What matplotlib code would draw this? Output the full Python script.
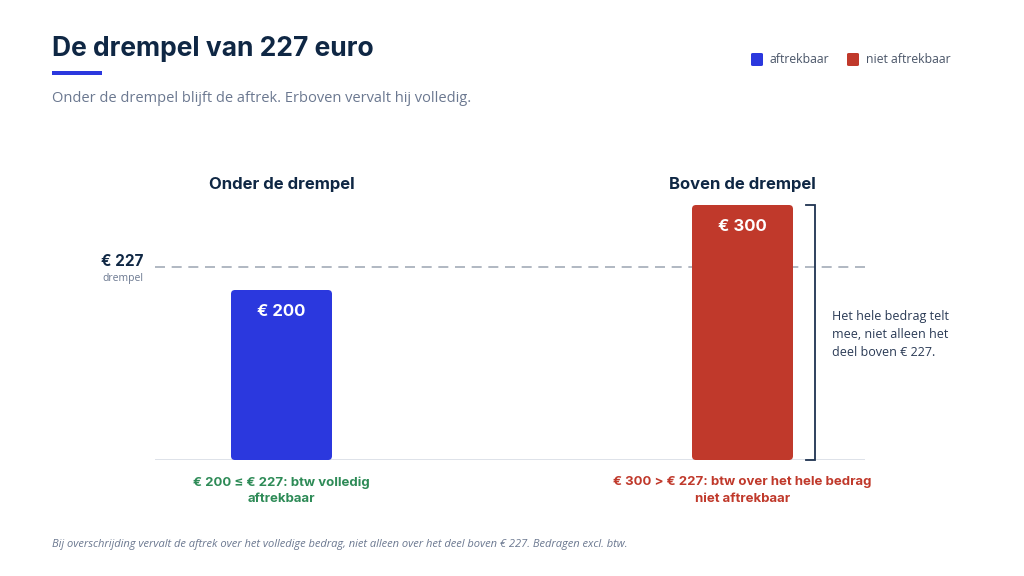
import matplotlib
matplotlib.use("Agg")
import matplotlib.pyplot as plt
from matplotlib.patches import FancyBboxPatch, Rectangle
import matplotlib.transforms as mtransforms

# ---- data ----
categories = ["Onder de drempel", "Boven de drempel"]
values = [200, 300]
threshold = 227
bar_labels = ["€ 200", "€ 300"]
status = ["aftrekbaar", "niet aftrekbaar"]
verdicts = ["€ 200 ≤ € 227: btw volledig\naftrekbaar",
            "€ 300 > € 227: btw over het hele bedrag\nniet aftrekbaar"]
legend_labels = ["aftrekbaar", "niet aftrekbaar"]

BLUE = "#2b38de"
RED = "#c0392b"
GREEN = "#2e8b57"
NAVY = "#0f2744"
GREY = "#6b7890"
DASH = "#a3abb7"

W, H = 1024, 576
fig = plt.figure(figsize=(W / 100, H / 100), dpi=100)
fig.patch.set_facecolor("white")

def fx(x):
    return x / W

def fy(y):
    return 1 - y / H

HEAD = ["Inter", "DejaVu Sans"]
BODY = ["Open Sans", "DejaVu Sans"]

# title block
fig.text(fx(52), fy(49), "De drempel van 227 euro", fontsize=19, fontweight="bold",
         color=NAVY, family=HEAD, va="center", ha="left")
fig.patches.append(Rectangle((fx(52), fy(74.5)), fx(50), 3 / H, transform=fig.transFigure,
                             facecolor=BLUE, edgecolor="none"))
fig.text(fx(52), fy(98), "Onder de drempel blijft de aftrek. Erboven vervalt hij volledig.",
         fontsize=10.5, color=GREY, family=BODY, va="center", ha="left")

# legend
for (x0, lab, col) in [(751, legend_labels[0], BLUE), (847, legend_labels[1], RED)]:
    fig.patches.append(FancyBboxPatch((fx(x0), fy(66)), fx(12), 13 / H,
                                      boxstyle="round,pad=0,rounding_size=0.002",
                                      transform=fig.transFigure, facecolor=col, edgecolor="none"))
    fig.text(fx(x0 + 19), fy(59.5), lab, fontsize=8.8, color="#4a5568", family=BODY,
             va="center", ha="left")

# axes
ax_left, ax_right, ax_base, ax_top = 155, 865, 460, 140
ax = fig.add_axes([fx(ax_left), fy(ax_base), fx(ax_right - ax_left), (ax_base - ax_top) / H])
px_per_x = 461.0
px_per_y = 0.85
x_positions = [0, 1]
ax.set_xlim(-(281.5 - ax_left) / px_per_x, 1 + (ax_right - 742.5) / px_per_x)
ax.set_ylim(0, (ax_base - ax_top) / px_per_y)
ax.axis("off")

bar_w = 101 / px_per_x
colors = [BLUE, RED]
bars = ax.bar(x_positions, values, width=bar_w, color=colors, zorder=3)
r = 4 / px_per_x
aspect = (4 / px_per_y) / r
for b, c in zip(bars, colors):
    b.set_visible(False)
    ax.add_patch(FancyBboxPatch((b.get_x(), b.get_y()), b.get_width(), b.get_height(),
                                boxstyle=f"round,pad=0,rounding_size={r}",
                                mutation_aspect=aspect, facecolor=c, edgecolor="none", zorder=3))

# baseline
ax.axhline(0, color="#d8dde5", lw=1.2, zorder=2)
# threshold dashed line
ax.axhline(threshold, color=DASH, lw=1.2, dashes=(6, 4), zorder=1)

# labels in bars
for xp, v, lab in zip(x_positions, values, bar_labels):
    ax.text(xp, v - 21 / px_per_y, lab, color="white", fontsize=12, fontweight="bold",
            family=HEAD, ha="center", va="center", zorder=4)

# category titles
trans = mtransforms.blended_transform_factory(ax.transData, fig.transFigure)
for xp, cat in zip(x_positions, categories):
    ax.text(xp, fy(184.5), cat, transform=trans, fontsize=12, fontweight="bold",
            color=NAVY, family=HEAD, ha="center", va="center")

# verdicts below
for xp, txt, col in zip(x_positions, verdicts, [GREEN, RED]):
    ax.text(xp, fy(476.5), txt, transform=trans, fontsize=9.5, fontweight="bold",
            color=col, family=HEAD, ha="center", va="top", linespacing=1.5)

# threshold label
fig.text(fx(143), fy(261), f"€ {threshold}", fontsize=11, fontweight="bold", color=NAVY,
         family=HEAD, ha="right", va="center")
fig.text(fx(143), fy(279), "drempel", fontsize=7.5, color=GREY, family=BODY,
         ha="right", va="center")

# bracket
bx = 1 + (815 - 742.5) / px_per_x
tx = 1 + (806 - 742.5) / px_per_x
ax.plot([tx, bx, bx, tx], [values[1], values[1], 0, 0], color="#1f3350", lw=1.3,
        solid_joinstyle="miter", zorder=3, clip_on=False)
ax.text(1 + (832 - 742.5) / px_per_x, (ax_base - 334) / px_per_y,
        "Het hele bedrag telt\nmee, niet alleen het\ndeel boven € 227.",
        fontsize=9, color="#2a3a55", family=BODY, ha="left", va="center", linespacing=1.5)

# footnote
fig.text(fx(52), fy(545), "Bij overschrijding vervalt de aftrek over het volledige bedrag, niet alleen over het deel boven € 227. Bedragen excl. btw.",
         fontsize=8, color=GREY, family=BODY, style="italic", ha="left", va="center")

fig.savefig("out.png", dpi=100, facecolor="white")
